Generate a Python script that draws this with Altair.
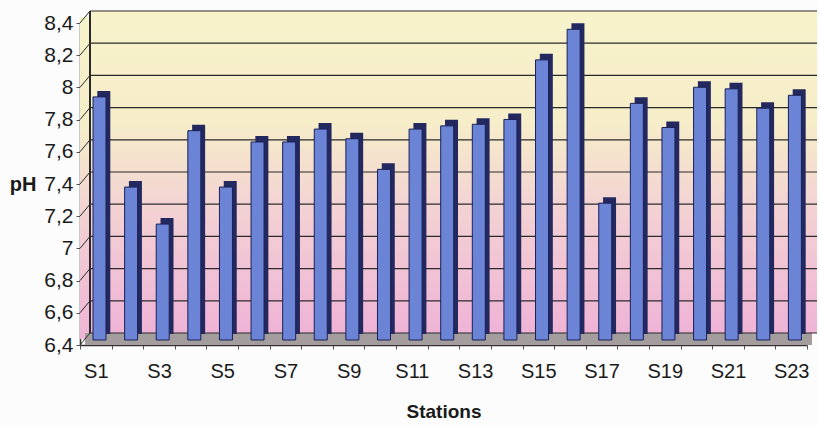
import altair as alt
import pandas as pd

# ---- data ----
stations = ["S1", "S2", "S3", "S4", "S5", "S6", "S7", "S8", "S9", "S10", "S11", "S12",
            "S13", "S14", "S15", "S16", "S17", "S18", "S19", "S20", "S21", "S22", "S23"]
ph_values = [7.91, 7.35, 7.12, 7.70, 7.35, 7.63, 7.63, 7.71, 7.65, 7.46, 7.71, 7.73,
             7.74, 7.77, 8.14, 8.33, 7.25, 7.87, 7.72, 7.97, 7.96, 7.84, 7.92]
y_ticks = [6.4, 6.6, 6.8, 7.0, 7.2, 7.4, 7.6, 7.8, 8.0, 8.2, 8.4]
y_min, y_max = 6.4, 8.4

df = pd.DataFrame({"station": stations, "ph": ph_values})
grid_df = pd.DataFrame({"v": y_ticks})

FONT = "Liberation Sans, Arial, sans-serif"
W, H = 727, 322
DX, DY = 10, 12  # 3D depth of the walls

yscale = alt.Scale(domain=[y_min, y_max], nice=False, zero=False)
xscale = alt.Scale(domain=stations, paddingInner=0, paddingOuter=0)

y_axis = alt.Axis(
    values=y_ticks, format=".1~f", labelExpr="replace(datum.label, '.', ',')",
    title="pH", titleAngle=0, titleAlign="right", titleBaseline="middle",
    titleX=-44, titleY=H / 2, titleFont=FONT, titleFontSize=20, titleFontWeight="bold",
    titleColor="#1a1a1a",
    labelFont=FONT, labelFontSize=21, labelColor="#1a1a1a", labelPadding=3,
    tickSize=4, tickColor="#555555", domainColor="#333333", domainWidth=1.5,
    grid=False, labelOverlap=False,
)
x_axis = alt.Axis(
    title="Stations", titleFont=FONT, titleFontSize=19, titleFontWeight="bold",
    titleColor="#1a1a1a", titleBaseline="alphabetic", titleY=72,
    labelExpr="parseInt(substring(datum.value, 1)) % 2 == 1 ? datum.value : ''",
    labelAngle=0, labelFont=FONT, labelFontSize=20, labelColor="#1a1a1a",
    labelBaseline="alphabetic", labelPadding=28, labelOverlap=False,
    tickBand="extent", tickSize=4, tickColor="#555555",
    domainColor="#333333", domainWidth=1.5, grid=False,
)

wall_fill = alt.Gradient(
    gradient="linear", x1=0, y1=0, x2=0, y2=1,
    stops=[
        alt.GradientStop(color="#f7f3cb", offset=0),
        alt.GradientStop(color="#f6edc9", offset=0.35),
        alt.GradientStop(color="#f3d3d3", offset=0.6),
        alt.GradientStop(color="#efb3d6", offset=1),
    ],
)

base = alt.Chart(df)

back_wall = base.mark_rect(fill=wall_fill, xOffset=DX, x2Offset=DX, yOffset=-DY, y2Offset=-DY).encode(
    x=alt.value(0), x2=alt.value("width"),
    y=alt.Y(datum=y_max, scale=yscale, axis=y_axis), y2=alt.datum(y_min),
)

side_wall = base.mark_rect(fill=wall_fill, yOffset=-DY / 2, y2Offset=-DY / 2).encode(
    x=alt.value(0), x2=alt.value(DX),
    y=alt.Y(datum=y_max, scale=yscale, axis=y_axis), y2=alt.datum(y_min),
)

floor = base.mark_rect(color="#a39d9e", xOffset=DX / 2, x2Offset=DX / 2, yOffset=-DY, y2Offset=0).encode(
    x=alt.value(0), x2=alt.value("width"),
    y=alt.Y(datum=y_min, scale=yscale, axis=y_axis), y2=alt.datum(y_min),
)

wall_edge = base.mark_rule(color="#2a2a2a", strokeWidth=1.2, yOffset=-DY, y2Offset=-DY).encode(
    x=alt.value(DX),
    y=alt.Y(datum=y_max, scale=yscale, axis=y_axis), y2=alt.datum(y_min),
)

gridlines = alt.Chart(grid_df).mark_rule(color="#2a2a2a", strokeWidth=1.2, xOffset=DX, x2Offset=DX, yOffset=-DY).encode(
    x=alt.value(0), x2=alt.value("width"),
    y=alt.Y("v:Q", scale=yscale, axis=y_axis),
)

diagonals = alt.Chart(grid_df).mark_rule(color="#2a2a2a", strokeWidth=1, y2Offset=-DY).encode(
    x=alt.value(0), x2=alt.value(DX),
    y=alt.Y("v:Q", scale=yscale, axis=y_axis), y2="v:Q",
)

bar_back = base.mark_bar(color="#23295f", size=13, xOffset=8, yOffset=-11, y2Offset=-11).encode(
    x=alt.X("station:N", sort=stations, scale=xscale, axis=x_axis),
    y=alt.Y("ph:Q", scale=yscale, axis=y_axis), y2=alt.datum(y_min),
)

bar_front = base.mark_bar(color="#6b84d6", stroke="#1b2055", strokeWidth=1, size=13,
                          xOffset=3.7, yOffset=-5, y2Offset=-5).encode(
    x=alt.X("station:N", sort=stations, scale=xscale, axis=x_axis),
    y=alt.Y("ph:Q", scale=yscale, axis=y_axis),
    y2=alt.datum(y_min),
)

chart = alt.layer(back_wall, side_wall, floor, wall_edge, gridlines, diagonals, bar_back, bar_front).properties(
    width=W, height=H,
    autosize=alt.AutoSizeParams(type="none"),
    padding={"left": 80, "top": 23, "right": 12, "bottom": 80},
    background="#fcfcfc",
).configure_view(stroke=None)

chart.save("out.html", embed_options={"renderer": "svg", "actions": False})
